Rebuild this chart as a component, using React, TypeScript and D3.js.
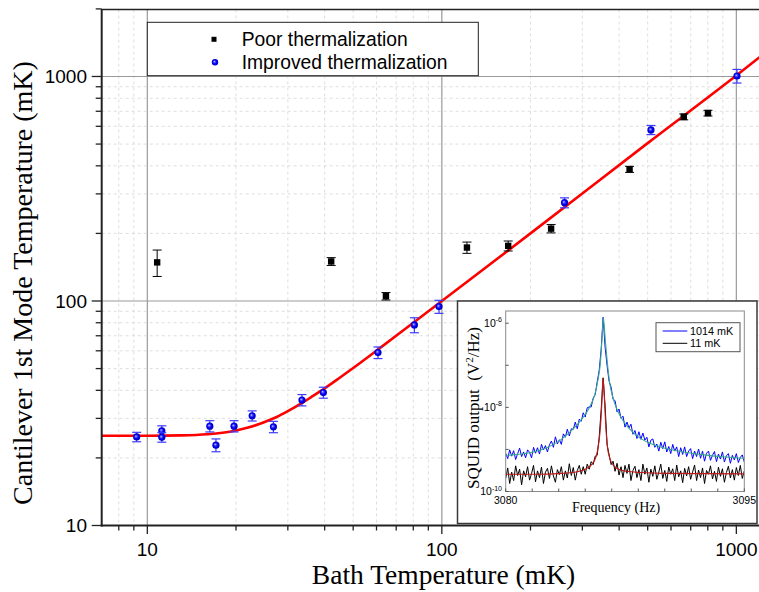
import React from 'react';
import * as d3 from 'd3';

// ---------- Main plot data ----------
const poorBath = [10.8, 42.1, 64.6, 121.7, 168, 235, 434, 663, 801];
const poorMode = [148.6, 150, 105, 173, 176, 210, 386, 661, 687];
const poorErr = [20, 6, 4, 10, 9, 9, 12, 20, 20];

const impBath = [9.2, 11.2, 11.2, 16.3, 17.1, 19.7, 22.7, 26.8, 33.5, 39.6, 60.7, 80.7, 97.8, 261, 513, 1005];
const impMode = [24.8, 26.4, 24.7, 27.7, 22.8, 27.7, 30.8, 27.5, 36.2, 39.1, 58.9, 78.2, 94.4, 274, 578, 1005];
const impErr = [1.2, 1.4, 1.2, 1.6, 1.5, 1.6, 1.6, 1.6, 2.1, 2.2, 3.5, 6, 6.3, 14, 27, 70];

const fitBath = [7, 10, 13, 16, 18, 20, 22, 24, 26, 28, 30, 33, 36, 40, 45, 50, 60, 80, 100, 200, 500, 1000, 1500];
const fitMode = [25.1, 25.1, 25.2, 25.5, 25.9, 26.5, 27.3, 28.3, 29.5, 30.8, 32.3, 34.7, 37.3, 40.8, 45.5, 50.3, 60.1, 80, 100, 200, 505, 1010, 1540];

const xTickLabels = [10, 100, 1000];
const yTickLabels = [10, 100, 1000];

// ---------- Inset data (log10 of V^2/Hz) ----------
const SPEC_START = 3080;
const SPEC_STEP = 0.125;
const spec1014 = [
  -9.09, -9.22, -9.01, -9.16, -9.03, -9.24, -9.10, -8.97, -9.17, -9.06,
  -9.20, -9.01, -9.07, -9.20, -8.95, -9.09, -8.96, -9.11, -8.88, -9.01,
  -8.91, -9.06, -8.89, -8.80, -8.95, -8.70, -8.87, -8.77, -8.88, -8.63,
  -8.71, -8.52, -8.68, -8.51, -8.52, -8.35, -8.51, -8.28, -8.33, -8.13,
  -8.23, -8.01, -7.99, -7.99, -7.78, -7.70, -7.40, -7.13, -6.63, -5.86,
  -6.57, -7.01, -7.38, -7.52, -7.81, -7.84, -8.11, -8.04, -8.26, -8.21,
  -8.47, -8.35, -8.49, -8.40, -8.64, -8.55, -8.74, -8.58, -8.76, -8.61,
  -8.78, -8.71, -8.94, -8.78, -8.75, -8.95, -8.87, -9.04, -8.83, -8.98,
  -8.82, -9.06, -8.93, -9.10, -8.88, -9.04, -8.94, -9.17, -8.96, -9.12,
  -8.94, -9.17, -9.04, -8.98, -9.22, -9.04, -9.17, -8.99, -9.21, -9.04,
  -9.28, -9.09, -9.04, -9.26, -9.14, -9.05, -9.29, -9.11, -9.23, -9.06,
  -9.30, -9.15, -9.10, -9.33, -9.14, -9.25, -9.10, -9.31, -9.19, -9.13,
  -9.30,
];
const spec11 = [
  -9.69, -9.44, -9.81, -9.54, -9.74, -9.39, -9.62, -9.47, -9.84, -9.51,
  -9.65, -9.41, -9.73, -9.57, -9.38, -9.77, -9.51, -9.67, -9.42, -9.81,
  -9.54, -9.45, -9.69, -9.39, -9.63, -9.78, -9.48, -9.60, -9.41, -9.73,
  -9.51, -9.68, -9.34, -9.62, -9.43, -9.73, -9.50, -9.38, -9.59, -9.41,
  -9.59, -9.35, -9.47, -9.29, -9.36, -9.16, -9.14, -8.72, -8.07, -7.30,
  -7.97, -8.89, -9.12, -9.36, -9.28, -9.52, -9.33, -9.61, -9.41, -9.67,
  -9.38, -9.57, -9.35, -9.74, -9.50, -9.40, -9.67, -9.48, -9.74, -9.35,
  -9.59, -9.44, -9.78, -9.47, -9.64, -9.39, -9.71, -9.54, -9.35, -9.69,
  -9.50, -9.76, -9.42, -9.59, -9.46, -9.74, -9.37, -9.65, -9.51, -9.79,
  -9.45, -9.63, -9.41, -9.71, -9.54, -9.37, -9.74, -9.49, -9.67, -9.44,
  -9.81, -9.50, -9.59, -9.39, -9.70, -9.52, -9.76, -9.42, -9.64, -9.46,
  -9.78, -9.55, -9.40, -9.68, -9.48, -9.73, -9.43, -9.62, -9.38, -9.69,
  -9.51,
];
const fit1014F = [3080, 3081, 3081.75, 3082.5, 3083, 3083.5, 3084, 3084.5, 3084.9, 3085.3, 3085.6, 3085.8, 3085.95, 3086.05, 3086.14, 3086.25, 3086.38, 3086.53, 3086.75, 3087, 3087.4, 3087.8, 3088.4, 3089.1, 3090, 3091.2, 3092.5, 3093.8, 3095];
const fit1014V = [-9.14, -9.11, -9.06, -8.97, -8.88, -8.76, -8.6, -8.41, -8.22, -7.98, -7.7, -7.35, -6.95, -6.4, -5.87, -6.35, -6.9, -7.4, -7.78, -8.05, -8.33, -8.52, -8.72, -8.86, -8.97, -9.06, -9.13, -9.18, -9.21];
const fit11F = [3080, 3082, 3083.5, 3084.5, 3085, 3085.4, 3085.7, 3085.85, 3085.97, 3086.05, 3086.12, 3086.2, 3086.3, 3086.4, 3086.55, 3086.8, 3087.1, 3087.6, 3088.5, 3090, 3095];
const fit11V = [-9.59, -9.59, -9.57, -9.53, -9.47, -9.36, -9.15, -8.85, -8.4, -7.85, -7.3, -7.75, -8.5, -8.95, -9.22, -9.39, -9.47, -9.52, -9.55, -9.57, -9.58];
const insetYTicks = [-10, -9, -8, -7, -6];
const insetYLabels = [-10, -8, -6];
const insetXLabels = [3080, 3095];
const insetXTickCount = 9;

const SANS = "'Liberation Sans', Arial, Helvetica, sans-serif";
const SERIF = "'Liberation Serif', 'Times New Roman', Times, serif";

export default function App() {
  const W = 759, H = 592;
  const x = d3.scaleLog().domain([7, 1500]).range([101.7, 788.2]);
  const y = d3.scaleLog().domain([10, 2000]).range([525.5, 8.9]);
  const left = 101.7, top = 9.5, bottom = 525.5, right = W;

  const xt = x.ticks().filter((t) => t > 7.01 && t <= 1500);
  const yt = y.ticks().filter((t) => t >= 10 && t <= 2000);
  const isMajor = (t: number) => Math.abs(Math.log10(t) - Math.round(Math.log10(t))) < 1e-9;

  const fitLine = d3.line<number>()
    .x((_, i) => x(fitBath[i]))
    .y((d) => y(d))
    .curve(d3.curveMonotoneX);

  // inset scales
  const ix0 = 505.7, ix1 = 744.3, iy0 = 311, iy1 = 491.5;
  const fx = d3.scaleLinear().domain([3080, 3095]).range([ix0, ix1]);
  const fy = d3.scaleLog().domain([1e-10, Math.pow(10, -5.71)]).range([iy1, iy0]);
  const specLine = d3.line<number>()
    .x((_, i) => fx(SPEC_START + i * SPEC_STEP))
    .y((d) => fy(Math.pow(10, d)));
  const fitLine1014 = d3.line<number>()
    .x((_, i) => fx(fit1014F[i]))
    .y((d) => fy(Math.pow(10, d)))
    .curve(d3.curveMonotoneX);
  const fitLine11 = d3.line<number>()
    .x((_, i) => fx(fit11F[i]))
    .y((d) => fy(Math.pow(10, d)))
    .curve(d3.curveMonotoneX);
  const insetXTicks = d3.range(insetXTickCount + 1).map((k) => 3080 + (k * 15) / insetXTickCount);

  return (
    <svg width={W} height={H} style={{ position: 'absolute', left: 0, top: 0, background: '#fff' }}>
      <defs>
        <clipPath id="plotClip">
          <rect x={left} y={top} width={right - left} height={bottom - top} />
        </clipPath>
        <clipPath id="insetClip">
          <rect x={ix0} y={iy0} width={ix1 - ix0} height={iy1 - iy0} />
        </clipPath>
        <radialGradient id="ball" cx="50%" cy="50%" r="55%" fx="38%" fy="38%">
          <stop offset="0%" stopColor="#e4e4ff" />
          <stop offset="22%" stopColor="#5a5aff" />
          <stop offset="55%" stopColor="#0000f0" />
          <stop offset="100%" stopColor="#0000b4" />
        </radialGradient>
      </defs>
      <rect x={0} y={0} width={W} height={H} fill="#fff" />

      {/* grid */}
      <g clipPath="url(#plotClip)">
        {xt.map((t) => (
          <line key={'gx' + t} x1={x(t)} x2={x(t)} y1={top} y2={bottom}
            stroke={isMajor(t) ? '#9a9a9a' : '#d6d6d6'} strokeWidth={isMajor(t) ? 1.2 : 0.8}
            strokeDasharray={isMajor(t) ? undefined : '3,3'} />
        ))}
        {yt.map((t) => (
          <line key={'gy' + t} x1={left} x2={right} y1={y(t)} y2={y(t)}
            stroke={isMajor(t) ? '#9a9a9a' : '#d6d6d6'} strokeWidth={isMajor(t) ? 1.2 : 0.8}
            strokeDasharray={isMajor(t) ? undefined : '3,3'} />
        ))}
      </g>

      {/* legend */}
      <rect x={147.3} y={22.3} width={331} height={53.4} fill="#fff" stroke="#222" strokeWidth={1} />
      <rect x={211.5} y={36.8} width={5} height={5} fill="#000" />
      <text x={241.7} y={45.7} fontFamily={SANS} fontSize={19.3} fill="#000">Poor thermalization</text>
      <circle cx={215} cy={62.3} r={3.2} fill="url(#ball)" />
      <text x={241.7} y={68.7} fontFamily={SANS} fontSize={19.3} fill="#000">Improved thermalization</text>

      {/* fit line */}
      <g clipPath="url(#plotClip)">
        <path d={fitLine(fitMode) || ''} fill="none" stroke="#ff0000" strokeWidth={2.6} />
      </g>

      {/* poor thermalization */}
      {poorBath.map((b, i) => {
        const cx = x(b);
        const yt0 = y(poorMode[i] + poorErr[i]);
        const yb0 = y(poorMode[i] - poorErr[i]);
        return (
          <g key={'p' + i}>
            <line x1={cx} x2={cx} y1={yt0} y2={yb0} stroke="#000" strokeWidth={1} />
            <line x1={cx - 4.5} x2={cx + 4.5} y1={yt0} y2={yt0} stroke="#000" strokeWidth={1} />
            <line x1={cx - 4.5} x2={cx + 4.5} y1={yb0} y2={yb0} stroke="#000" strokeWidth={1} />
            <rect x={cx - 3.2} y={y(poorMode[i]) - 3.2} width={6.4} height={6.4} fill="#000" />
          </g>
        );
      })}

      {/* improved thermalization */}
      {impBath.map((b, i) => {
        const cx = x(b);
        const yt0 = y(impMode[i] + impErr[i]);
        const yb0 = y(impMode[i] - impErr[i]);
        return (
          <g key={'im' + i}>
            <line x1={cx} x2={cx} y1={yt0} y2={yb0} stroke="#3b3bff" strokeWidth={1.2} />
            <line x1={cx - 4.5} x2={cx + 4.5} y1={yt0} y2={yt0} stroke="#3b3bff" strokeWidth={1.2} />
            <line x1={cx - 4.5} x2={cx + 4.5} y1={yb0} y2={yb0} stroke="#3b3bff" strokeWidth={1.2} />
            <circle cx={cx} cy={y(impMode[i])} r={3.6} fill="url(#ball)" />
          </g>
        );
      })}

      {/* top frame */}
      <line x1={left} x2={right} y1={top} y2={top} stroke="#222" strokeWidth={1.5} />

      {/* inset */}
      <rect x={457.5} y={301} width={299.5} height={222.5} fill="#fff" stroke="#3a3a3a" strokeWidth={1.5} />
      <g clipPath="url(#insetClip)">
        <path d={specLine(spec1014) || ''} fill="none" stroke="#0000ff" strokeWidth={1} />
        <path d={specLine(spec11) || ''} fill="none" stroke="#000" strokeWidth={1} />
        <path d={fitLine1014(fit1014V) || ''} fill="none" stroke="#3aa98a" strokeWidth={1.1} />
        <path d={fitLine11(fit11V) || ''} fill="none" stroke="#c01818" strokeWidth={1.1} />
      </g>
      <rect x={ix0} y={iy0} width={ix1 - ix0} height={iy1 - iy0} fill="none" stroke="#8a8a8a" strokeWidth={1} />
      {insetYTicks.map((e) => (
        <line key={'iyt' + e} x1={ix0} x2={ix0 + 3} y1={fy(Math.pow(10, e))} y2={fy(Math.pow(10, e))} stroke="#555" strokeWidth={1} />
      ))}
      {insetXTicks.map((f, k) => (
        <line key={'ixt' + k} x1={fx(f)} x2={fx(f)} y1={iy1} y2={iy1 - 3} stroke="#555" strokeWidth={1} />
      ))}
      {insetYLabels.map((e) => (
        <text key={'iyl' + e} x={502} y={fy(Math.pow(10, e)) + 3.5} textAnchor="end" fontFamily={SANS} fontSize={10.5} fill="#000">
          <tspan>10</tspan>
          <tspan dy={-4.5} fontSize={7}>{String(e)}</tspan>
        </text>
      ))}
      {insetXLabels.map((f) => (
        <text key={'ixl' + f} x={fx(f)} y={504} textAnchor="middle" fontFamily={SANS} fontSize={10.5} fill="#000">{f}</text>
      ))}
      <text x={616} y={512} textAnchor="middle" fontFamily={SERIF} fontSize={14} fill="#000">Frequency (Hz)</text>
      <text transform="translate(478.5,408) rotate(-90)" textAnchor="middle" fontFamily={SERIF} fontSize={17} fill="#000">
        SQUID output{'\u00a0 '}(V<tspan dy={-6} fontSize={11}>2</tspan><tspan dy={6}>/Hz)</tspan>
      </text>
      {/* inset legend */}
      <rect x={656} y={322.7} width={84} height={29} fill="#fff" stroke="#555" strokeWidth={1} />
      <line x1={662.7} x2={687.3} y1={331} y2={331} stroke="#0000ff" strokeWidth={1} />
      <text x={690} y={334.8} fontFamily={SANS} fontSize={10.8} fill="#000">1014 mK</text>
      <line x1={662.7} x2={687.3} y1={343.3} y2={343.3} stroke="#000" strokeWidth={1} />
      <text x={690} y={347.1} fontFamily={SANS} fontSize={10.8} fill="#000">11 mK</text>

      {/* axes */}
      <line x1={left} x2={left} y1={top - 0.5} y2={bottom + 1} stroke="#222" strokeWidth={2} />
      <line x1={left - 1} x2={right} y1={bottom} y2={bottom} stroke="#222" strokeWidth={2} />
      {yt.map((t) => (
        <line key={'yt' + t} x1={left - (isMajor(t) ? 10 : 6)} x2={left} y1={y(t)} y2={y(t)} stroke="#222" strokeWidth={1.3} />
      ))}
      {xt.map((t) => (
        <line key={'xt' + t} x1={x(t)} x2={x(t)} y1={bottom} y2={bottom + (isMajor(t) ? 8.5 : 5)} stroke="#222" strokeWidth={1.3} />
      ))}
      {yTickLabels.map((t) => (
        <text key={'yl' + t} x={87} y={y(t) + 6.8} textAnchor="end" fontFamily={SANS} fontSize={19} fill="#000">{t}</text>
      ))}
      {xTickLabels.map((t) => (
        <text key={'xl' + t} x={x(t)} y={556} textAnchor="middle" fontFamily={SANS} fontSize={19} fill="#000">{t}</text>
      ))}
      <text x={443.5} y={584} textAnchor="middle" fontFamily={SERIF} fontSize={27.5} fill="#000">Bath Temperature (mK)</text>
      <text transform="translate(31.5,283) rotate(-90)" textAnchor="middle" fontFamily={SERIF} fontSize={28} fill="#000">
        Cantilever 1st Mode Temperature (mK)
      </text>
    </svg>
  );
}
